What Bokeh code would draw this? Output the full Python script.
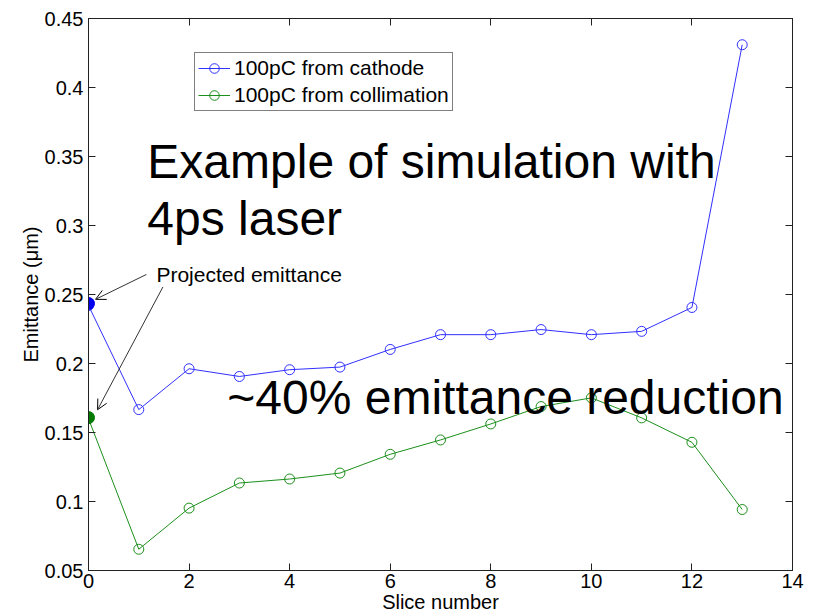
from bokeh.plotting import figure
from bokeh.models import (Range1d, FixedTicker, Legend, LegendItem, Label, Arrow,
                          OpenHead, LinearAxis)
from bokeh.embed import file_html
from bokeh.resources import INLINE

# ---- data ----
slices = [0, 1, 2, 3, 4, 5, 6, 7, 8, 9, 10, 11, 12, 13]
cathode = [0.242, 0.1666, 0.1962, 0.1906, 0.1955, 0.1974, 0.2102, 0.2209,
           0.2209, 0.2246, 0.2209, 0.2233, 0.2406, 0.4310]
collimation = [0.160, 0.0654, 0.0952, 0.1134, 0.1163, 0.1206, 0.1342, 0.1446,
               0.1562, 0.1688, 0.1751, 0.1606, 0.1429, 0.0942]
projected_x = [0]
projected_cathode = [0.2435]
projected_collimation = [0.1608]

x_ticks = [0, 2, 4, 6, 8, 10, 12, 14]
y_ticks = [0.05, 0.1, 0.15, 0.2, 0.25, 0.3, 0.35, 0.4, 0.45]
y_tick_labels = ["0.05", "0.1", "0.15", "0.2", "0.25", "0.3", "0.35", "0.4", "0.45"]
series_names = ["100pC from cathode", "100pC from collimation"]

FONT = "Liberation Sans"
BLUE = "#3030ff"
GREEN = "#1c8f1c"

p = figure(width=813, height=616, output_backend="svg", toolbar_location=None,
           x_range=Range1d(0, 14), y_range=Range1d(0.05, 0.45),
           min_border_left=88, min_border_right=21, min_border_top=18,
           min_border_bottom=46)
p.background_fill_color = "white"
p.border_fill_color = "white"
p.outline_line_color = "#222222"
p.outline_line_width = 1
p.xgrid.visible = False
p.ygrid.visible = False

def style_axis(ax, show_labels=True):
    ax.major_tick_in = 7
    ax.major_tick_out = 0
    ax.minor_tick_in = 0
    ax.minor_tick_out = 0
    ax.axis_line_color = "#222222"
    ax.major_tick_line_color = "#222222"
    ax.major_label_text_font = FONT
    ax.major_label_text_font_size = "20px"
    ax.major_label_text_color = "black"
    ax.axis_label_text_font = FONT
    ax.axis_label_text_font_size = "20px"
    ax.axis_label_text_font_style = "normal"
    ax.axis_label_text_color = "black"
    if not show_labels:
        ax.major_label_text_font_size = "0px"
        ax.major_label_text_alpha = 0

xax = p.xaxis[0]
yax = p.yaxis[0]
xax.ticker = FixedTicker(ticks=x_ticks)
yax.ticker = FixedTicker(ticks=y_ticks)
yax.major_label_overrides = {t: s for t, s in zip(y_ticks, y_tick_labels)}
style_axis(xax)
style_axis(yax)
xax.axis_label = "Slice number"
yax.axis_label = "Emittance (\u03bcm)"
xax.major_label_standoff = 3
xax.axis_label_standoff = 0
yax.major_label_standoff = 5
yax.axis_label_standoff = 0

top = LinearAxis(ticker=FixedTicker(ticks=x_ticks))
right = LinearAxis(ticker=FixedTicker(ticks=y_ticks))
style_axis(top, False)
style_axis(right, False)
top.major_label_standoff = 0
right.major_label_standoff = 0
p.add_layout(top, "above")
p.add_layout(right, "right")

# ---- series ----
l1 = p.line(slices, cathode, line_color=BLUE, line_width=1)
c1 = p.scatter(slices, cathode, marker="circle", size=10, fill_color=None,
               line_color=BLUE, line_width=1)
l2 = p.line(slices, collimation, line_color=GREEN, line_width=1)
c2 = p.scatter(slices, collimation, marker="circle", size=10, fill_color=None,
               line_color=GREEN, line_width=1)
p.scatter(projected_x, projected_cathode, marker="circle", size=12,
          fill_color="#0000ee", line_color="#0000ee")
p.scatter(projected_x, projected_collimation, marker="circle", size=12,
          fill_color="#007a00", line_color="#007a00")

legend = Legend(items=[LegendItem(label=series_names[0], renderers=[l1, c1]),
                       LegendItem(label=series_names[1], renderers=[l2, c2])],
                location=(106, 459))
legend.label_text_font = FONT
legend.label_text_font_size = "21px"
legend.label_text_color = "black"
legend.label_height = 24
legend.glyph_height = 24
legend.glyph_width = 32
legend.label_standoff = 4
legend.spacing = 3
legend.padding = 3
legend.margin = 0
legend.border_line_color = "black"
legend.border_line_width = 1
legend.background_fill_color = "white"
legend.background_fill_alpha = 1
p.add_layout(legend, "center")

# ---- annotations ----
def add_label(x, y, text, size):
    p.add_layout(Label(x=x, y=y, text=text, text_font=FONT, text_font_size=size,
                       text_color="black", text_baseline="alphabetic",
                       text_align="left"))

add_label(1.17, 0.3464, "Example of simulation with", "48px")
add_label(1.17, 0.3051, "4ps laser", "48px")
add_label(2.76, 0.1754, "~40% emittance reduction", "48px")
add_label(1.35, 0.2645, "Projected emittance", "21px")

p.add_layout(Arrow(end=OpenHead(size=10, line_width=1, line_color="black"),
                   x_start=1.15, y_start=0.2645, x_end=0.14, y_end=0.2465,
                   line_width=1, line_color="#333333"))
p.add_layout(Arrow(end=OpenHead(size=10, line_width=1, line_color="black"),
                   x_start=1.48, y_start=0.2555, x_end=0.18, y_end=0.1665,
                   line_width=1, line_color="#333333"))

open("out.html", "w").write(file_html(p, INLINE))
